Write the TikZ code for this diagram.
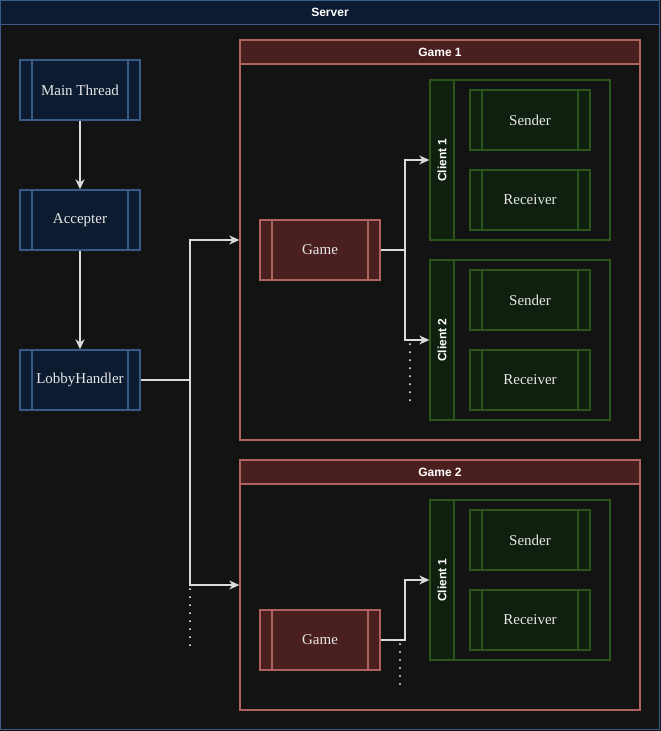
\documentclass[tikz,border=0pt]{standalone}
\usepackage{fontspec}
\setmainfont{Liberation Serif}
\newfontfamily\titlefont{Liberation Sans}
\usetikzlibrary{arrows.meta}
\definecolor{bg}{HTML}{131313}
\definecolor{bluefill}{HTML}{0D1B31}
\definecolor{bluedraw}{HTML}{3A5A88}
\definecolor{redfill}{HTML}{4A1F1F}
\definecolor{reddraw}{HTML}{B0625E}
\definecolor{greenfill}{HTML}{10200E}
\definecolor{greendraw}{HTML}{2A551B}
\definecolor{linecol}{HTML}{DADADA}
\definecolor{txt}{HTML}{E8E8E8}
\tikzset{
  proc/.style n args={2}{draw=#1, fill=#2, line width=1.3pt, minimum width=120pt,
    minimum height=60pt, inner sep=0pt, text=txt, font=\fontsize{15}{18}\selectfont,
    path picture={\draw[#1, line width=1.3pt]
      ([xshift=12pt]path picture bounding box.north west) -- ([xshift=12pt]path picture bounding box.south west)
      ([xshift=-12pt]path picture bounding box.north east) -- ([xshift=-12pt]path picture bounding box.south east);}},
  frame/.style={draw=#1, fill=bg, line width=1.3pt, inner sep=0pt},
  titlebar/.style n args={2}{draw=#1, fill=#2, line width=1.3pt, inner sep=0pt, text=white,
    font=\titlefont\bfseries\fontsize{12}{14}\selectfont},
  conn/.style={draw=linecol, line width=1.3pt, -{Stealth[length=10pt,width=9pt,inset=3pt]}},
  dots/.style={draw=white, line width=2pt, line cap=round, dash pattern=on 0pt off 8pt},
}
\begin{document}
\begin{tikzpicture}[x=1pt,y=-1pt]
\useasboundingbox (0,0) rectangle (661,731);
\fill[bg] (0,0) rectangle (661,731);
% server
\node[frame=bluedraw, minimum width=659pt, minimum height=729pt] (server) at (330,365) {};
\node[titlebar={bluedraw}{bluefill}, minimum width=659pt, minimum height=24pt] (servertitle) at (330,12.5) {Server};
% game containers
\node[frame=reddraw, minimum width=400pt, minimum height=400pt] (game1) at (440,240) {};
\node[titlebar={reddraw}{redfill}, minimum width=400pt, minimum height=24pt] (game1title) at (440,52) {Game 1};
\node[frame=reddraw, minimum width=400pt, minimum height=250pt] (game2) at (440,585) {};
\node[titlebar={reddraw}{redfill}, minimum width=400pt, minimum height=24pt] (game2title) at (440,472) {Game 2};
% client containers
\node[frame=greendraw, minimum width=180pt, minimum height=160pt] (ga1) at (520,160) {};
\node[titlebar={greendraw}{greenfill}, rotate=90, minimum width=160pt, minimum height=24pt] (ga1t) at (442,160) {Client 1};
\node[frame=greendraw, minimum width=180pt, minimum height=160pt] (ga2) at (520,340) {};
\node[titlebar={greendraw}{greenfill}, rotate=90, minimum width=160pt, minimum height=24pt] (ga2t) at (442,340) {Client 2};
\node[frame=greendraw, minimum width=180pt, minimum height=160pt] (gb1) at (520,580) {};
\node[titlebar={greendraw}{greenfill}, rotate=90, minimum width=160pt, minimum height=24pt] (gb1t) at (442,580) {Client 1};
% sender / receiver
\node[proc={greendraw}{greenfill}] (sa1) at (530,120) {Sender};
\node[proc={greendraw}{greenfill}] (ra1) at (530,200) {Receiver};
\node[proc={greendraw}{greenfill}] (sa2) at (530,300) {Sender};
\node[proc={greendraw}{greenfill}] (ra2) at (530,380) {Receiver};
\node[proc={greendraw}{greenfill}] (sb1) at (530,540) {Sender};
\node[proc={greendraw}{greenfill}] (rb1) at (530,620) {Receiver};
% game nodes
\node[proc={reddraw}{redfill}] (gamea) at (320,250) {Game};
\node[proc={reddraw}{redfill}] (gameb) at (320,640) {Game};
% blue nodes
\node[proc={bluedraw}{bluefill}] (main) at (80,90) {Main Thread};
\node[proc={bluedraw}{bluefill}] (acc) at (80,220) {Accepter};
\node[proc={bluedraw}{bluefill}] (lobby) at (80,380) {LobbyHandler};
% connectors
\coordinate (jl) at (190,380);
\coordinate (ja) at (405,250);
\coordinate (jb) at (405,640);
\draw[conn] (main) -- (acc);
\draw[conn] (acc) -- (lobby);
\draw[conn] (lobby.east) -- (jl) |- (game1.west);
\draw[conn] (jl) |- (game2.west);
\draw[conn] (gamea.east) -- (ja) |- (ga1.west);
\draw[conn] (ja) |- (ga2.west);
\draw[conn] (gameb.east) -- (jb) |- (gb1.west);
% dotted continuations
\coordinate (d1a) at (190,589);
\coordinate (d1b) at (190,646);
\coordinate (d2a) at (410,344);
\coordinate (d2b) at (410,401);
\coordinate (d3a) at (400,644);
\coordinate (d3b) at (400,691);
\draw[dots] (d1a) -- (d1b);
\draw[dots] (d2a) -- (d2b);
\draw[dots] (d3a) -- (d3b);
\end{tikzpicture}
\end{document}
